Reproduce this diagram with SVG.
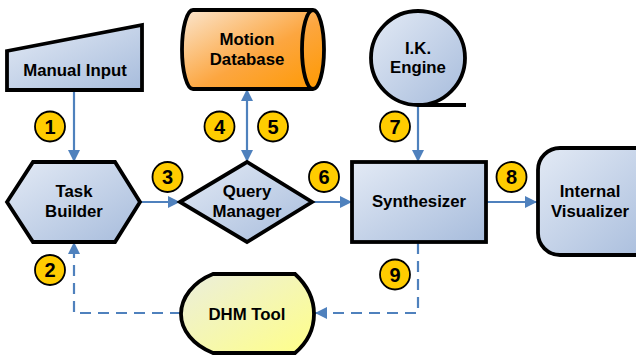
<svg xmlns="http://www.w3.org/2000/svg" width="636" height="355" viewBox="0 0 636 355">
<defs>
<linearGradient id="gBlue" x1="0" y1="0" x2="1" y2="1">
<stop offset="0" stop-color="#e3eaf5"/>
<stop offset="1" stop-color="#a7bcdc"/>
</linearGradient>
<linearGradient id="gOrange" x1="0" y1="0" x2="1" y2="1">
<stop offset="0" stop-color="#fbe6cf"/>
<stop offset="0.55" stop-color="#fca640"/>
<stop offset="1" stop-color="#ff9900"/>
</linearGradient>
<linearGradient id="gYellow" x1="0" y1="0" x2="1" y2="1">
<stop offset="0" stop-color="#ebeedc"/>
<stop offset="1" stop-color="#ffff88"/>
</linearGradient>
<marker id="ah" viewBox="0 0 12 12" refX="12" refY="6" markerWidth="12" markerHeight="12" markerUnits="userSpaceOnUse" orient="auto-start-reverse">
<path d="M0,0 L12,6 L0,12 Z" fill="#4f81bd"/>
</marker>
</defs>
<style>
.node{stroke:#000;stroke-width:3.8;stroke-linejoin:miter}
.blue{fill:url(#gBlue)}
.lbl{font-family:"Liberation Sans",Arial,sans-serif;font-weight:bold;font-size:16.8px;fill:#000;text-anchor:middle}
.con{stroke:#4f81bd;stroke-width:2.2;fill:none}
.dash{stroke-dasharray:11,7}
.badge circle{fill:#ffcc00;stroke:#000;stroke-width:1.8}
.badge text{font-family:"Liberation Sans",Arial,sans-serif;font-weight:bold;font-size:20px;fill:#000;text-anchor:middle}
</style>
<rect width="636" height="355" fill="#fff"/>

<g id="connectors">
<line class="con" x1="74" y1="90" x2="74" y2="162" marker-end="url(#ah)"/>
<path class="con dash" d="M181,313 L74,313 L74,242" marker-end="url(#ah)"/>
<line class="con" x1="140" y1="202" x2="180" y2="202" marker-end="url(#ah)"/>
<line class="con" x1="247" y1="89" x2="247" y2="162" marker-start="url(#ah)" marker-end="url(#ah)"/>
<line class="con" x1="312" y1="202" x2="352" y2="202" marker-end="url(#ah)"/>
<line class="con" x1="418" y1="105" x2="418" y2="162" marker-end="url(#ah)"/>
<line class="con" x1="486" y1="202" x2="537" y2="202" marker-end="url(#ah)"/>
<path class="con dash" d="M418,243 L418,313 L315,313" marker-end="url(#ah)"/>
</g>

<g id="manual-input">
<polygon class="node blue" points="7,51 142,25 142,90 7,90"/>
<text class="lbl" x="75" y="76">Manual Input</text>
</g>

<g id="motion-database">
<path class="node" fill="url(#gOrange)" d="M193,10 L313,10 A11,39.5 0 0 1 313,89 L193,89 A11,39.5 0 0 1 193,10 Z"/>
<path class="node" fill="none" d="M313,10 A11,39.5 0 0 0 313,89"/>
<text class="lbl" x="247" y="45">Motion</text>
<text class="lbl" x="247" y="64.5">Database</text>
</g>

<g id="ik-engine">
<circle class="node blue" cx="418" cy="58" r="47"/>
<line class="node" x1="418" y1="105" x2="466" y2="105"/>
<text class="lbl" x="418" y="54">I.K.</text>
<text class="lbl" x="418" y="73">Engine</text>
</g>

<g id="task-builder">
<polygon class="node blue" points="7,202 33,162 115,162 140,202 115,242 33,242"/>
<text class="lbl" x="74" y="197">Task</text>
<text class="lbl" x="74" y="217">Builder</text>
</g>

<g id="query-manager">
<polygon class="node blue" points="180,202 247,162 312,202 247,242"/>
<text class="lbl" x="247" y="197">Query</text>
<text class="lbl" x="247" y="217">Manager</text>
</g>

<g id="synthesizer">
<rect class="node blue" x="352" y="162" width="134" height="80" stroke-width="4.2"/>
<text class="lbl" x="419" y="207">Synthesizer</text>
</g>

<g id="internal-visualizer">
<rect class="node blue" x="538" y="148" width="120" height="107" rx="22" ry="22"/>
<text class="lbl" x="590" y="197">Internal</text>
<text class="lbl" x="590" y="217">Visualizer</text>
</g>

<g id="dhm-tool">
<path class="node" fill="url(#gYellow)" d="M213,274 L295,274 C308,286 314,300 314,314 C314,328 308,342 295,353 L213,353 C193,345 181,330 181,314 C181,298 193,282 213,274 Z"/>
<text class="lbl" x="247" y="319.5">DHM Tool</text>
</g>

<g id="badges">
<g class="badge"><circle cx="50" cy="126.5" r="15"/><text x="50" y="133.5">1</text></g>
<g class="badge"><circle cx="50" cy="270" r="15"/><text x="50" y="277">2</text></g>
<g class="badge"><circle cx="167.5" cy="177" r="15"/><text x="167.5" y="184">3</text></g>
<g class="badge"><circle cx="219.5" cy="126.5" r="15"/><text x="219.5" y="133.5">4</text></g>
<g class="badge"><circle cx="273" cy="126.5" r="15"/><text x="273" y="133.5">5</text></g>
<g class="badge"><circle cx="324" cy="177" r="15"/><text x="324" y="184">6</text></g>
<g class="badge"><circle cx="395" cy="126.5" r="15"/><text x="395" y="133.5">7</text></g>
<g class="badge"><circle cx="511.5" cy="177" r="15"/><text x="511.5" y="184">8</text></g>
<g class="badge"><circle cx="395" cy="274.5" r="15"/><text x="395" y="281.5">9</text></g>
</g>
</svg>
